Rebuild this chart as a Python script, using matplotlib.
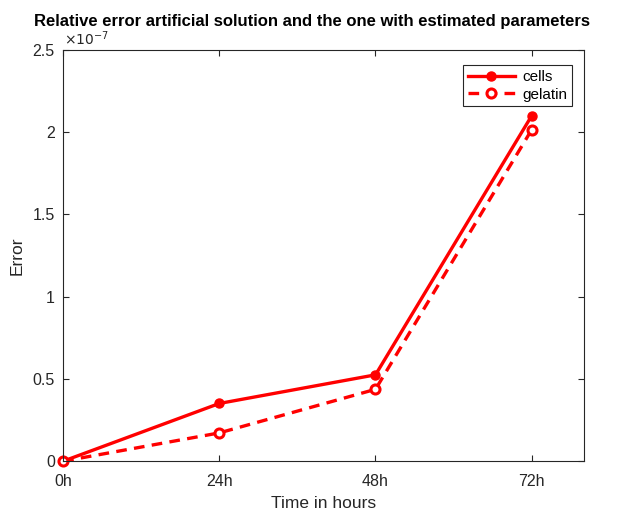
import matplotlib.pyplot as plt
from matplotlib.ticker import FuncFormatter

# data (units of 1e-7)
hours = [0, 24, 48, 72]
hour_labels = ['0h', '24h', '48h', '72h']
cells = [0.0, 0.351, 0.525, 2.10]
gelatin = [0.0, 0.172, 0.437, 2.015]
scale = 1e-7

plt.rcParams['font.family'] = ['Liberation Sans', 'DejaVu Sans']

fig = plt.figure(figsize=(6.19, 5.13), dpi=100)
fig.patch.set_facecolor('white')
ax = fig.add_axes([0.102, 0.101, 0.841, 0.8015])

ax.plot(hours, [v * scale for v in cells], color='red', linewidth=2.4,
        marker='o', markersize=6.5, label='cells', clip_on=False)
ax.plot(hours, [v * scale for v in gelatin], color='red', linewidth=2.4,
        linestyle=(0, (3.2, 2.2)), marker='o', markersize=6.5,
        markerfacecolor='white', markeredgewidth=2.2, label='gelatin',
        clip_on=False)

ax.set_xlim(0, 80)
ax.set_ylim(0, 2.5 * scale)
ax.set_xticks(hours)
ax.set_xticklabels(hour_labels)
ax.set_yticks([t * scale for t in [0, 0.5, 1, 1.5, 2, 2.5]])
ax.yaxis.set_major_formatter(FuncFormatter(lambda v, p: f'{v / scale:g}'))
ax.text(0.002, 1.006, r'$\times10^{-7}$', transform=ax.transAxes, fontsize=10,
        color='#262626', ha='left', va='bottom')

for side in ['top', 'right', 'left', 'bottom']:
    ax.spines[side].set_color('#262626')
    ax.spines[side].set_linewidth(0.8)
ax.tick_params(direction='in', length=4, width=0.8, colors='#262626',
               labelsize=11.5, top=True, right=True, pad=6)
ax.tick_params(axis='x', pad=9)

ax.set_xlabel('Time in hours', fontsize=12.5, color='#262626', labelpad=5)
ax.set_ylabel('Error', fontsize=12.5, color='#262626', labelpad=6)
ax.set_title('Relative error artificial solution and the one with estimated parameters',
             fontsize=12, fontweight='bold', pad=17, x=0.478)

leg = ax.legend(loc='upper right', bbox_to_anchor=(0.984, 0.97), fontsize=11,
                fancybox=False, framealpha=1, edgecolor='#262626',
                handlelength=3.1, borderpad=0.3, labelspacing=0.25,
                handletextpad=0.5, borderaxespad=0.2)
leg.get_frame().set_linewidth(0.8)

fig.savefig('out.png', dpi=100, facecolor='white')
